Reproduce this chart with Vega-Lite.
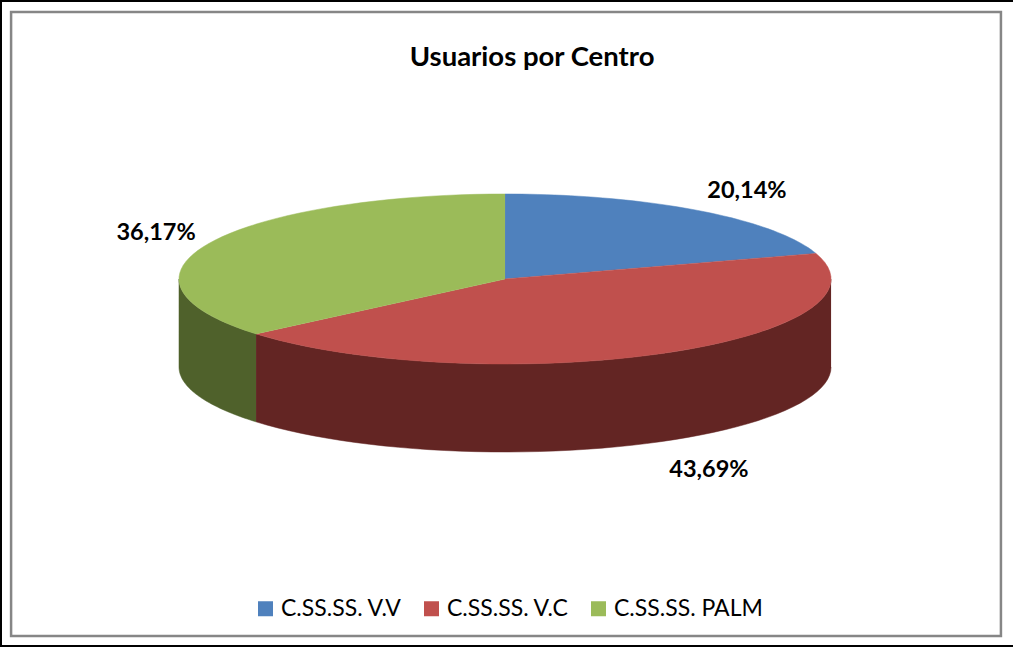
{
  "$schema": "https://vega.github.io/schema/vega-lite/v6.json",
  "width": 1013,
  "height": 647,
  "padding": 0,
  "autosize": {"type": "fit", "contains": "padding"},
  "background": "white",
  "config": {"view": {"stroke": null}},
  "data": {"values": [
    {"orden": 1, "centro": "C.SS.SS. V.V", "porcentaje": 20.14, "etiqueta": "20,14%"},
    {"orden": 2, "centro": "C.SS.SS. V.C", "porcentaje": 43.69, "etiqueta": "43,69%"},
    {"orden": 3, "centro": "C.SS.SS. PALM", "porcentaje": 36.17, "etiqueta": "36,17%"}
  ]},
  "transform": [
    {"window": [{"op": "sum", "field": "porcentaje", "as": "acum"}], "sort": [{"field": "orden", "order": "ascending"}]},
    {"calculate": "(datum.acum - datum.porcentaje) * 3.6", "as": "a0"},
    {"calculate": "datum.acum * 3.6", "as": "a1"}
  ],
  "layer": [
    {
      "data": {"values": [{}]},
      "transform": [],
      "mark": {"type": "rect", "fill": null, "stroke": "#868686", "strokeWidth": 2.5, "clip": true},
      "encoding": {
        "x": {"datum": -1.515, "type": "quantitative", "scale": {"domain": [-1.549, 1.558]}, "axis": null},
        "x2": {"datum": 1.521},
        "y": {"datum": 3.141, "type": "quantitative", "scale": {"domain": [-4.329, 3.282]}, "axis": null},
        "y2": {"datum": -4.2}
      }
    },
    {
      "data": {"values": [{}]},
      "transform": [],
      "mark": {"type": "rule", "stroke": "black", "strokeWidth": 4, "clip": true},
      "encoding": {
        "x": {"datum": -1.549, "type": "quantitative", "scale": {"domain": [-1.549, 1.558]}, "axis": null},
        "y": {"datum": -4.329, "type": "quantitative", "scale": {"domain": [-4.329, 3.282]}, "axis": null},
        "y2": {"datum": 3.282}
      }
    },
    {
      "data": {"values": [{"v": 3.282}, {"v": -4.329}]},
      "transform": [],
      "mark": {"type": "rule", "stroke": "black", "strokeWidth": 4, "clip": true},
      "encoding": {
        "x": {"datum": -1.549, "type": "quantitative", "scale": {"domain": [-1.549, 1.558]}, "axis": null},
        "x2": {"datum": 1.558},
        "y": {"field": "v", "type": "quantitative", "scale": {"domain": [-4.329, 3.282]}, "axis": null}
      }
    },
    {
      "transform": [
        {"calculate": "max(datum.a0, 90)", "as": "b0"},
        {"calculate": "min(datum.a1, 270)", "as": "b1"},
        {"filter": "datum.b1 > datum.b0"},
        {"calculate": "sequence(0, 2.03, 0.02)", "as": "t"},
        {"flatten": ["t"]},
        {"calculate": "datum.t <= 1.001 ? datum.t : 2.02 - datum.t", "as": "f"},
        {"calculate": "datum.b0 + clamp(datum.f, 0, 1) * (datum.b1 - datum.b0)", "as": "ang"},
        {"calculate": "sin(datum.ang * PI / 180)", "as": "u"},
        {"calculate": "cos(datum.ang * PI / 180) - (datum.t <= 1.001 ? 0 : 1.035)", "as": "v"}
      ],
      "mark": {"type": "line", "strokeWidth": 0.5},
      "encoding": {
        "x": {"field": "u", "type": "quantitative", "scale": {"domain": [-1.549, 1.558]}, "axis": null},
        "y": {"field": "v", "type": "quantitative", "scale": {"domain": [-4.329, 3.282]}, "axis": null},
        "order": {"field": "t"},
        "detail": {"field": "centro"},
        "stroke": {"field": "centro", "type": "nominal", "legend": null, "scale": {"domain": ["C.SS.SS. V.C", "C.SS.SS. PALM"], "range": ["#632523", "#4F612B"]}},
        "fill": {"field": "centro", "type": "nominal", "legend": null, "scale": {"domain": ["C.SS.SS. V.C", "C.SS.SS. PALM"], "range": ["#632523", "#4F612B"]}}
      }
    },
    {
      "transform": [
        {"calculate": "sequence(-0.02, 1.01, 0.02)", "as": "t"},
        {"flatten": ["t"]},
        {"calculate": "datum.a0 + min(datum.t, 1) * (datum.a1 - datum.a0)", "as": "ang"},
        {"calculate": "datum.t < 0 ? 0 : sin(datum.ang * PI / 180)", "as": "u"},
        {"calculate": "datum.t < 0 ? 0 : cos(datum.ang * PI / 180)", "as": "v"}
      ],
      "mark": {"type": "line", "strokeWidth": 0.5},
      "encoding": {
        "x": {"field": "u", "type": "quantitative", "scale": {"domain": [-1.549, 1.558]}, "axis": null},
        "y": {"field": "v", "type": "quantitative", "scale": {"domain": [-4.329, 3.282]}, "axis": null},
        "order": {"field": "t"},
        "detail": {"field": "centro"},
        "stroke": {"field": "centro", "type": "nominal", "legend": null, "scale": {"domain": ["C.SS.SS. V.V", "C.SS.SS. V.C", "C.SS.SS. PALM"], "range": ["#4F81BD", "#C0504D", "#9BBB59"]}},
        "fill": {
          "field": "centro", "type": "nominal",
          "scale": {"domain": ["C.SS.SS. V.V", "C.SS.SS. V.C", "C.SS.SS. PALM"], "range": ["#4F81BD", "#C0504D", "#9BBB59"]},
          "legend": {
            "title": null, "orient": "none", "legendX": 254, "legendY": 597, "direction": "horizontal", "columns": 3,
            "symbolType": "square", "symbolSize": 225, "symbolStrokeWidth": 0, "columnPadding": 18,
            "labelFont": "Lato", "labelFontSize": 23, "labelColor": "black", "labelOffset": 4, "labelLimit": 300
          }
        }
      }
    },
    {
      "transform": [
        {"calculate": "(datum.a0 + datum.a1) / 2 * PI / 180", "as": "mid"},
        {"calculate": "sin(datum.mid) * (datum.mid > 4.7 ? 1.18 : datum.mid > 1.57 ? 1.296 : 1.255)", "as": "lu"},
        {"calculate": "cos(datum.mid) < 0 ? cos(datum.mid) * 1.39 - 1.035 : cos(datum.mid) * 1.29", "as": "lv"}
      ],
      "mark": {"type": "text", "font": "Lato", "fontWeight": "bold", "fontSize": 23.5, "color": "black", "align": "center", "baseline": "middle"},
      "encoding": {
        "x": {"field": "lu", "type": "quantitative", "scale": {"domain": [-1.549, 1.558]}, "axis": null},
        "y": {"field": "lv", "type": "quantitative", "scale": {"domain": [-4.329, 3.282]}, "axis": null},
        "text": {"field": "etiqueta"}
      }
    },
    {
      "data": {"values": [{"titulo": "Usuarios por Centro"}]},
      "transform": [],
      "mark": {"type": "text", "font": "Lato", "fontWeight": "bold", "fontSize": 27.5, "color": "black", "align": "center", "baseline": "middle"},
      "encoding": {
        "x": {"datum": 0.083, "type": "quantitative", "scale": {"domain": [-1.549, 1.558]}, "axis": null},
        "y": {"datum": 2.6, "type": "quantitative", "scale": {"domain": [-4.329, 3.282]}, "axis": null},
        "text": {"field": "titulo"}
      }
    }
  ],
  "resolve": {"scale": {"fill": "independent", "stroke": "independent"}}
}
